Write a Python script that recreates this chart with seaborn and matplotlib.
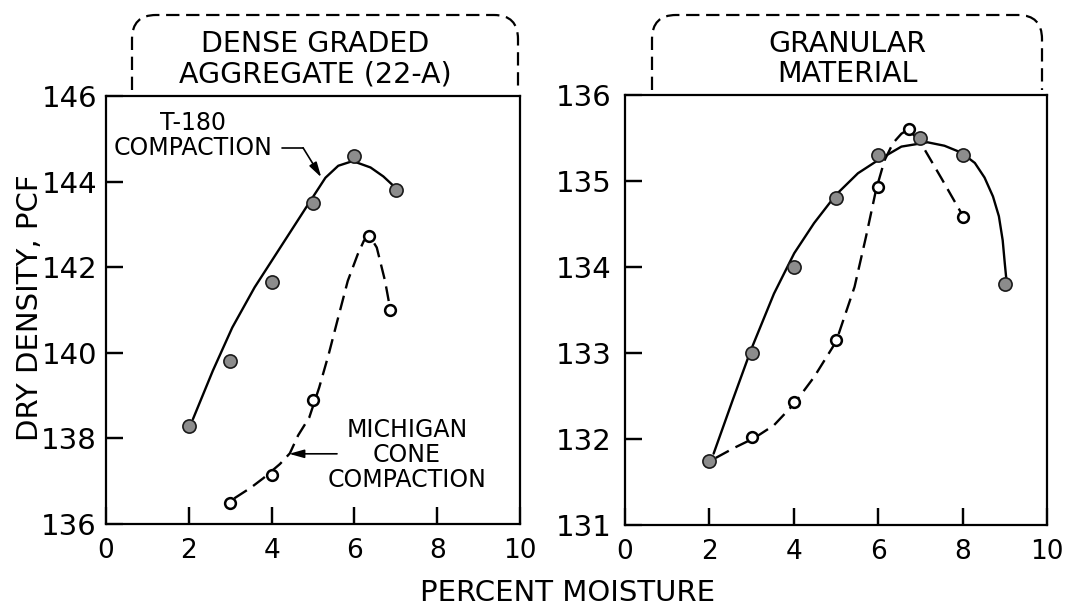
import numpy as np
import pandas as pd
import seaborn as sns
import matplotlib
matplotlib.use("Agg")
import matplotlib.pyplot as plt
from matplotlib.path import Path
from matplotlib.patches import PathPatch

# ---------------- data ----------------
# Dense graded aggregate (22-A)
dga_t180_x = [2, 3, 4, 5, 6, 7]
dga_t180_y = [138.3, 139.8, 141.65, 143.5, 144.6, 143.8]
dga_cone_x = [3, 4, 5, 6.35, 6.85]
dga_cone_y = [136.5, 137.15, 138.9, 142.72, 141.0]
# hand-drawn curves (vertices)
dga_t180_curve_x = [2.1, 2.58, 3.05, 3.59, 4.21, 4.83, 5.30, 5.61, 5.96, 6.39, 6.7, 7.0]
dga_t180_curve_y = [138.45, 139.58, 140.59, 141.53, 142.46, 143.39, 144.09, 144.37, 144.48, 144.33, 144.12, 143.85]
dga_cone_curve_x = [3.1, 3.5, 3.8, 4.2, 4.44, 4.64, 4.91, 5.15, 5.38, 5.61, 5.84, 6.08, 6.23, 6.37, 6.54, 6.74, 6.85]
dga_cone_curve_y = [136.6, 136.85, 137.07, 137.4, 137.65, 138.07, 138.49, 139.19, 139.97, 140.83, 141.68, 142.3, 142.62, 142.73, 142.46, 141.68, 141.1]

# Granular material
gm_t180_x = [2, 3, 4, 5, 6, 7, 8, 9]
gm_t180_y = [131.75, 133.0, 134.0, 134.8, 135.3, 135.5, 135.3, 133.8]
gm_cone_x = [3, 4, 5, 6, 6.72, 8]
gm_cone_y = [132.02, 132.43, 133.15, 134.93, 135.6, 134.58]
gm_t180_curve_x = [2.1, 2.55, 2.98, 3.53, 4.01, 4.48, 5.0, 5.52, 5.99, 6.55, 7.17, 7.57, 7.97, 8.29, 8.52, 8.72, 8.86, 8.95, 9.0, 9.04]
gm_t180_curve_y = [131.83, 132.45, 133.03, 133.69, 134.16, 134.51, 134.84, 135.09, 135.24, 135.40, 135.45, 135.41, 135.33, 135.21, 135.04, 134.82, 134.59, 134.31, 134.04, 133.84]
gm_cone_curve_x = [2.15, 2.6, 3.06, 3.53, 4.01, 4.48, 5.0, 5.44, 5.71, 5.95, 6.15, 6.35, 6.55, 6.72, 7.0, 7.5, 8.0]
gm_cone_curve_y = [131.78, 131.9, 132.01, 132.16, 132.41, 132.72, 133.13, 133.77, 134.35, 134.9, 135.24, 135.44, 135.55, 135.6, 135.45, 135.03, 134.6]

x_ticks = [0, 2, 4, 6, 8, 10]
dga_y_ticks = [136, 138, 140, 142, 144, 146]
gm_y_ticks = [131, 132, 133, 134, 135, 136]

panel_titles = ["DENSE GRADED\nAGGREGATE (22-A)", "GRANULAR\nMATERIAL"]
y_label = "DRY DENSITY, PCF"
x_label = "PERCENT MOISTURE"
t180_label = "T-180\nCOMPACTION"
cone_label = "MICHIGAN\nCONE\nCOMPACTION"

# ---------------- style ----------------
sns.set_style("ticks")
plt.rcParams["font.family"] = ["DejaVu Sans"]
for k in ("text.color", "axes.labelcolor", "xtick.color", "ytick.color", "axes.edgecolor"):
    plt.rcParams[k] = "black"
plt.rcParams["axes.linewidth"] = 1.6

W, H = 1074, 610
fig = plt.figure(figsize=(W / 100, H / 100), dpi=100)

def fx(px):
    return px / W

def fy(py):
    return 1 - py / H

ax1 = fig.add_axes([fx(106), fy(524), fx(520) - fx(106), fy(96) - fy(524)])
ax2 = fig.add_axes([fx(625), fy(525), fx(1047) - fx(625), fy(95) - fy(525)])

line_kw = dict(color="black", linewidth=1.7, sort=False, estimator=None, legend=False)
dash = (6.3, 3.2)

def draw_panel(ax, cx1, cy1, cx2, cy2, px1, py1, px2, py2):
    sns.lineplot(x=cx1, y=cy1, ax=ax, **line_kw)
    sns.lineplot(x=cx2, y=cy2, ax=ax, **line_kw)
    ax.lines[-1].set_dashes(dash)
    sns.scatterplot(x=px2, y=py2, ax=ax, s=60, color="white", edgecolor="black",
                    linewidth=1.8, zorder=5, legend=False)
    sns.scatterplot(x=px1, y=py1, ax=ax, s=90, color="#8c8c8c", edgecolor="#1a1a1a",
                    linewidth=1.2, zorder=6, legend=False)

draw_panel(ax1, dga_t180_curve_x, dga_t180_curve_y, dga_cone_curve_x, dga_cone_curve_y,
           dga_t180_x, dga_t180_y, dga_cone_x, dga_cone_y)
draw_panel(ax2, gm_t180_curve_x, gm_t180_curve_y, gm_cone_curve_x, gm_cone_curve_y,
           gm_t180_x, gm_t180_y, gm_cone_x, gm_cone_y)

ax1.set_xlim(0, 10)
ax1.set_ylim(136, 146)
ax2.set_xlim(0, 10)
ax2.set_ylim(131, 136)
tick_len = 0.04  # inward tick length as a fraction of the axes
for ax, yt, ypad in ((ax1, dga_y_ticks, 6.5), (ax2, gm_y_ticks, 9.5)):
    ax.set_xticks(x_ticks)
    ax.set_yticks(yt)
    ax.set_xticklabels([str(v) for v in x_ticks])
    ax.set_yticklabels([str(v) for v in yt])
    ax.set_xlabel("")
    ax.set_ylabel("")
    ax.tick_params(axis="both", which="major", direction="in", length=12, width=1.6,
                   color="black", labelcolor="black", bottom=True, left=True,
                   top=False, right=False)
    ax.tick_params(axis="y", pad=ypad, labelsize=21)
    ax.tick_params(axis="x", pad=10, labelsize=19)
    ax.vlines(x_ticks[1:-1], 0, tick_len, transform=ax.get_xaxis_transform(),
              colors="black", linewidth=1.6, zorder=10, clip_on=False)
    ax.hlines(yt[1:-1], 0, tick_len, transform=ax.get_yaxis_transform(),
              colors="black", linewidth=1.6, zorder=10, clip_on=False)
    for s in ax.spines.values():
        s.set_visible(True)
        s.set_linewidth(1.6)
        s.set_color("black")

# annotations on the left panel
ax1.text(2.1, 145.08, t180_label, ha="center", va="center", fontsize=17, linespacing=1.05)
ax1.plot([4.25, 4.76], [144.79, 144.79], color="black", lw=1.2)
ax1.annotate("", xy=(5.2, 144.1), xytext=(4.76, 144.79),
             arrowprops=dict(arrowstyle="-|>,head_length=0.9,head_width=0.25",
                             color="black", lw=1.2, shrinkA=0, shrinkB=0))
ax1.text(7.27, 137.62, cone_label, ha="center", va="center", fontsize=17, linespacing=1.05)
ax1.annotate("", xy=(4.42, 137.64), xytext=(5.58, 137.64),
             arrowprops=dict(arrowstyle="-|>,head_length=0.9,head_width=0.25",
                             color="black", lw=1.2, shrinkA=0, shrinkB=0))

# dashed rounded header brackets
def bracket(x0, x1, ytop, ybot, r=24):
    verts = [(x0, ybot), (x0, ytop + r), (x0, ytop), (x0 + r, ytop),
             (x1 - r, ytop), (x1, ytop), (x1, ytop + r), (x1, ybot)]
    codes = [Path.MOVETO, Path.LINETO, Path.CURVE3, Path.CURVE3,
             Path.LINETO, Path.CURVE3, Path.CURVE3, Path.LINETO]
    verts = [(fx(a), fy(b)) for a, b in verts]
    p = PathPatch(Path(verts, codes), transform=fig.transFigure, fill=False,
                  edgecolor="black", linewidth=1.6, linestyle=(0, (6, 3)))
    fig.add_artist(p)

bracket(132, 518, 15, 90)
bracket(652, 1042, 15, 90)

fig.text(fx(315), fy(59), panel_titles[0], ha="center", va="center", fontsize=20.5,
         linespacing=1.12)
fig.text(fx(847), fy(59), panel_titles[1], ha="center", va="center", fontsize=20.5,
         linespacing=1.12)

fig.text(fx(30), fy(308), y_label, rotation=90, ha="center", va="center", fontsize=21)
fig.text(fx(567), fy(593), x_label, ha="center", va="center", fontsize=21)

fig.savefig("out.png", dpi=100, facecolor="white")
